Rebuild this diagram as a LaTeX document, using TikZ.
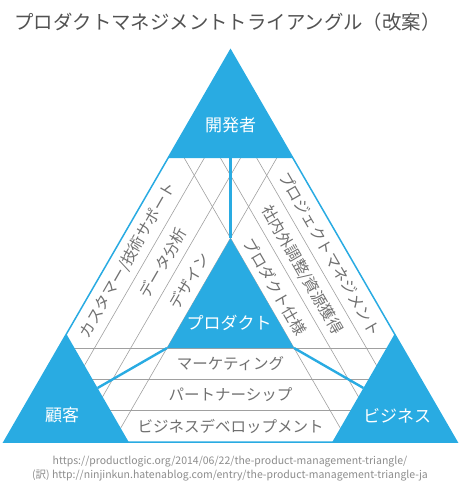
\documentclass[tikz,border=0pt]{standalone}
\usepackage{fontspec}
\setmainfont{Noto Sans CJK JP}
\usepackage{tikz}
\usetikzlibrary{positioning,calc}
\definecolor{triblue}{HTML}{29ABE2}
\definecolor{stripgray}{HTML}{707070}
\definecolor{gridgray}{HTML}{A0A0A0}
\definecolor{notegray}{HTML}{8C8C8C}
\newcommand{\sz}[1]{\fontsize{#1}{#1}\selectfont}
\newcommand{\cornerTri}[3]{\fill[triblue] (#1) -- (#2) -- (#3) -- cycle;}

\begin{document}
\begin{tikzpicture}[x=1pt, y=-1pt,
		corner/.style={text=white, font=\sz{17}, inner sep=0pt},
		strip/.style={text=stripgray, font=\sz{15.5}, inner sep=0pt},
		gridline/.style={gridgray, line width=0.6pt},
		link/.style={triblue, line width=2.4pt},
		note/.style={text=notegray, font=\sz{10.5}, inner sep=0pt}]
	\useasboundingbox (0,0) rectangle (465,490);
	% outer triangle
	\coordinate (apex) at (230.5,50); \coordinate (bl) at (4,442); \coordinate (br) at (457,442);
	% corner triangles
	\coordinate (dev-l) at (168.1,158); \coordinate (dev-r) at (292.9,158); \coordinate (dev-m) at (230.5,158);
	\coordinate (cus-t) at (66.4,334); \coordinate (cus-r) at (128.7,442); \coordinate (cus-m) at ($(cus-t)!0.5!(cus-r)$);
	\coordinate (biz-t) at (394.6,334); \coordinate (biz-l) at (332.3,442); \coordinate (biz-m) at ($(biz-t)!0.5!(biz-l)$);
	\coordinate (prd-t) at (230.5,238.2); \coordinate (prd-l) at (167,348); \coordinate (prd-r) at (294,348);
	\node[font=\sz{19.4}, text=black!68, inner sep=0pt] (title) at (227.5,22) {プロダクトマネジメントトライアングル（改案）};
	\begin{scope}
		\clip (apex) -- (bl) -- (br) -- cycle;
		\foreach \k in {1,2,3} {
			\draw[gridline] ({4+36.22*\k},442) -- ({230.5+36.22*\k},50);
			\draw[gridline] ({457-36.22*\k},442) -- ({230.5-36.22*\k},50);
			\draw[gridline] (0,{442-31.37*\k}) -- (465,{442-31.37*\k});
		}
	\end{scope}
	\draw[triblue, line width=1.5pt] (apex) -- (bl) -- (br) -- cycle;
	\cornerTri{apex}{dev-l}{dev-r}
	\cornerTri{bl}{cus-t}{cus-r}
	\cornerTri{br}{biz-t}{biz-l}
	\cornerTri{prd-t}{prd-l}{prd-r}
	\draw[link] (dev-m) -- (prd-t);
	\draw[link] (cus-m) -- (prd-l);
	\draw[link] (prd-r) -- (biz-m);
	\node[corner] (dev) at (230.5,125) {開発者};
	\node[corner] (cus) at (62,415) {顧客};
	\node[corner] (biz) at (397,416) {ビジネス};
	\node[corner] (prd) at (229,323) {プロダクト};
	% bottom strips
	\node[strip] (mkt) at (230.5,363.7) {マーケティング};
	\node[strip] (ptn) at (230.5,395) {パートナーシップ};
	\node[strip] (bdv) at (230.5,426.3) {ビジネスデベロップメント};
	% left strips
	\node[strip, rotate=60] (sup) at (128,260) {カスタマー/技術サポート};
	\node[strip, rotate=60] (dat) at (163,263) {データ分析};
	\node[strip, rotate=60] (dsn) at (189,281) {デザイン};
	% right strips
	\node[strip, rotate=-60] (pm) at (330,254) {プロジェクトマネジメント};
	\node[strip, rotate=-60] (adj) at (302,270) {社内外調整/資源獲得};
	\node[strip, rotate=-60] (spc) at (275,287) {プロダクト仕様};
	\node[note] (src) at (230,462) {https://productlogic.org/2014/06/22/the-product-management-triangle/};
	\node[note] (ja) at (230,476) {(訳) http://ninjinkun.hatenablog.com/entry/the-product-management-triangle-ja};
\end{tikzpicture}
\end{document}
